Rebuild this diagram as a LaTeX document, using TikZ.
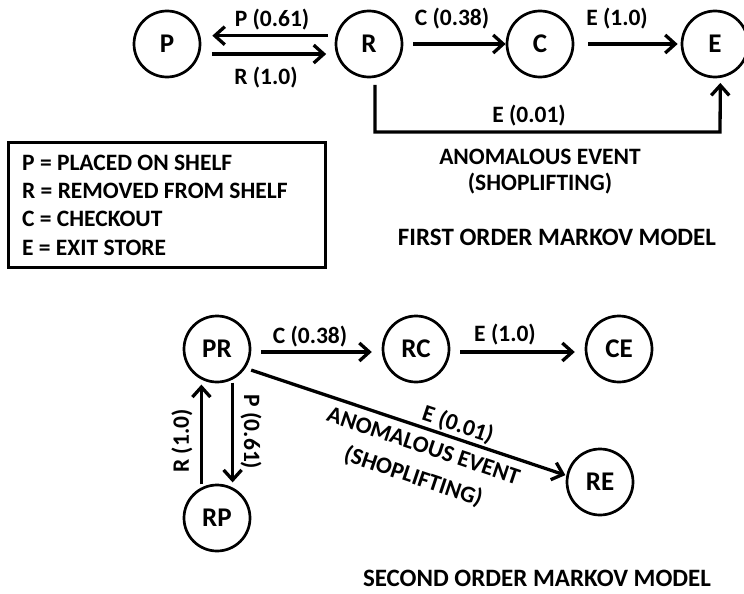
\documentclass[tikz,border=0pt]{standalone}
\usepackage{fontspec}
\setmainfont{Carlito}
\usetikzlibrary{arrows.meta,calc}
\begin{document}
\begin{tikzpicture}[x=1pt,y=-1pt,
  state/.style={circle,draw,line width=2.7pt,minimum size=66pt,inner sep=0pt,
    font=\bfseries\fontsize{27}{32}\selectfont},
  lbl/.style={font=\bfseries\fontsize{23.5}{28}\selectfont,inner sep=0pt},
  ttl/.style={font=\bfseries\fontsize{25}{30}\selectfont,inner sep=0pt},
  legtext/.style={font=\bfseries\fontsize{23.5}{28}\selectfont,inner sep=0pt,anchor=base west},
  legbox/.style={draw,line width=3pt,minimum width=317pt,minimum height=125pt,inner sep=0pt},
  arr/.style={line width=3.3pt,-{Straight Barb[length=10pt,width=18pt]}}]
\useasboundingbox (0,0) rectangle (744,594);

% ---------- first order ----------
\node[state] (P) at (167,44) {P};
\node[state] (R) at (369,44) {R};
\node[state] (C) at (540,44) {C};
\node[state] (E) at (715,44) {E};

\draw[arr,shorten <=8pt,shorten >=12pt] (R.166) -- (P.14);
\draw[arr,shorten <=12pt,shorten >=10pt] (P.-17.6) -- (R.197.6);
\draw[arr,shorten <=10pt,shorten >=0pt] (R.east) -- (C.west);
\draw[arr,shorten <=14pt,shorten >=3pt] (C.east) -- (E.west);
\coordinate (k1) at (375,132);
\coordinate (k2) at (720,132);
\draw[arr,shorten <=7pt,shorten >=5pt] (R.-80) -- (R.-80 |- k1) -- (k2) -- (E.-81);

\node[lbl] (lPR) at (272,20) {P (0.61)};
\node[lbl] (lRP) at (266,78) {R (1.0)};
\node[lbl] (lRC) at (452,19) {C (0.38)};
\node[lbl] (lCE) at (617,19) {E (1.0)};
\node[lbl] (lRE) at (529,116) {E (0.01)};
\node[lbl] (an1) at (540,157) {ANOMALOUS EVENT};
\node[lbl] (an2) at (540,184) {(SHOPLIFTING)};
\node[ttl] (t1) at (557,237) {FIRST ORDER MARKOV MODEL};

% ---------- legend ----------
\node[legbox] (leg) at (166.5,204.5) {};
\node[legtext] (l1) at (22,170) {P = PLACED ON SHELF};
\node[legtext] (l2) at (22,198.3) {R = REMOVED FROM SHELF};
\node[legtext] (l3) at (22,226.6) {C = CHECKOUT};
\node[legtext] (l4) at (22,255) {E = EXIT STORE};

% ---------- second order ----------
\node[state] (PR) at (217,349) {PR};
\node[state] (RC) at (416,349) {RC};
\node[state] (CE) at (619,349) {CE};
\node[state] (RE) at (600,482) {RE};
\node[state] (RP) at (217,518) {RP};

\draw[arr,shorten <=10pt,shorten >=10pt] (PR.-5) -- (RC.185);
\draw[arr,shorten <=10pt,shorten >=10pt] (RC.-5) -- (CE.185);
\draw[arr,shorten <=3pt,shorten >=5pt] (PR.-63) -- (RP.63);
\draw[arr,shorten <=3pt,shorten >=5pt] (RP.117) -- (PR.-117);
\draw[arr,shorten <=6pt,shorten >=1pt] (PR.-34) -- (RE.169);

\node[lbl] (mRC) at (310,337) {C (0.38)};
\node[lbl] (mCE) at (505,335) {E (1.0)};
\node[lbl,rotate=90] (mRP) at (182,441) {R (1.0)};
\node[lbl,rotate=-90] (mPR) at (251,432) {P (0.61)};
\node[lbl,rotate=-18.5] (mRE) at (458,425) {E (0.01)};
\node[lbl,rotate=-18.5,align=center,font=\bfseries\fontsize{23.5}{32}\selectfont] (man) at (418,462.5) {ANOMALOUS EVENT\\(SHOPLIFTING)};
\node[ttl] (t2) at (537,578) {SECOND ORDER MARKOV MODEL};
\end{tikzpicture}
\end{document}
